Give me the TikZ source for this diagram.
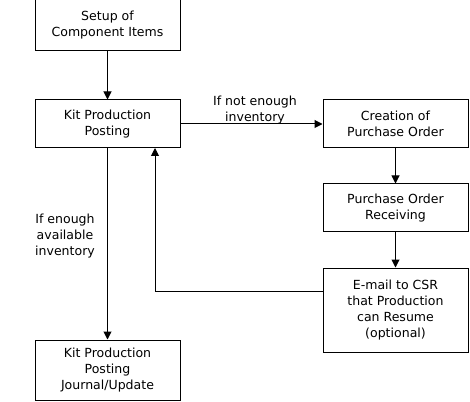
\documentclass[tikz,border=0pt]{standalone}
\usepackage{fontspec}
\setmainfont{DejaVu Sans}
\usetikzlibrary{arrows.meta}
\begin{document}
\begin{tikzpicture}[x=0.75pt,y=-0.75pt,
  box/.style={draw,line width=0.75pt,align=center,font=\fontsize{9.4}{12}\selectfont,inner sep=0pt},
  lbl/.style={align=center,font=\fontsize{9.4}{12}\selectfont,inner sep=0pt},
  conn/.style={line width=0.75pt,-{Triangle[length=6pt,width=6pt]}},
  plain/.style={line width=0.75pt}]
\useasboundingbox (0,0) rectangle (470,402);
\node[box,minimum width=108.75pt,minimum height=38.25pt] (setup) at (107.5,25.5) {Setup of\\Component Items};
\node[box,minimum width=108.75pt,minimum height=36pt] (kit) at (107.5,124) {Kit Production\\Posting};
\node[box,minimum width=108.75pt,minimum height=45pt] (journal) at (107.5,370) {Kit Production\\Posting\\Journal/Update};
\node[box,minimum width=108.75pt,minimum height=36pt] (po) at (395.5,124) {Creation of\\Purchase Order};
\node[box,minimum width=108.75pt,minimum height=36pt] (rec) at (395.5,208) {Purchase Order\\Receiving};
\node[box,minimum width=108.75pt,minimum height=63pt] (mail) at (395.5,310) {E-mail to CSR\\that Production\\can Resume\\(optional)};
\coordinate (c1) at (155,291);
\coordinate (c2) at (155,148);
\draw[conn] (setup) -- (kit);
\draw[conn] (kit.south) -- (journal.north);
\draw[conn] (kit.east) -- (po.west);
\draw[conn] (po) -- (rec);
\draw[conn] (rec) -- (mail);
\draw[conn] (mail.west |- c1) -- (c1) -- (c2);
\node[lbl] (l1) at (255,110) {If not enough\\inventory};
\node[lbl] (l2) at (65,236) {If enough\\available\\inventory};
\end{tikzpicture}
\end{document}
